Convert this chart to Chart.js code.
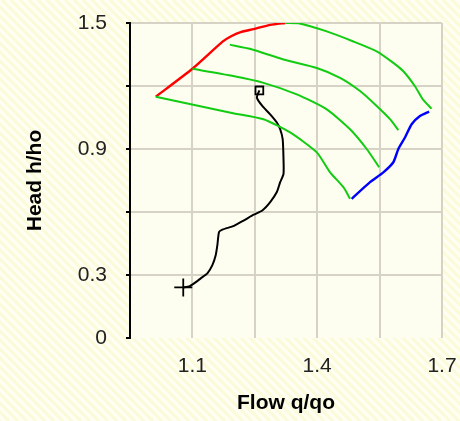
<!DOCTYPE html>
<html><head><meta charset="utf-8">
<script src="https://cdn.jsdelivr.net/npm/chart.js@4/dist/chart.umd.min.js"></script>
<style>html,body{margin:0;padding:0;background:#FEFEF2;}#wrap{width:460px;height:421px;}</style>
</head><body><div id="wrap"><canvas id="c" width="460" height="421"></canvas></div>
<script>
const X_TICKS = [0.95, 1.1, 1.25, 1.4, 1.55, 1.7];
const X_LABELED = [1.1, 1.4, 1.7];
const Y_TICKS = [0, 0.3, 0.6, 0.9, 1.2, 1.5];
const Y_LABELED = [0, 0.3, 0.9, 1.5];

const RED_Q = [1.012, 1.1, 1.1725, 1.192, 1.216, 1.247, 1.2875, 1.323];
const RED_H = [1.149, 1.282, 1.411, 1.436, 1.457, 1.471, 1.491, 1.50];

const GREEN1_Q = [1.323, 1.355, 1.423, 1.487, 1.543, 1.583, 1.607, 1.635, 1.654, 1.675];
const GREEN1_H = [1.50, 1.499, 1.460, 1.412, 1.365, 1.310, 1.270, 1.199, 1.136, 1.092];

const GREEN2_Q = [1.190, 1.240, 1.319, 1.399, 1.455, 1.503, 1.543, 1.575, 1.595];
const GREEN2_H = [1.397, 1.376, 1.326, 1.286, 1.239, 1.176, 1.105, 1.042, 0.990];

const GREEN3_Q = [1.1, 1.192, 1.271, 1.351, 1.423, 1.479, 1.519, 1.549];
const GREEN3_H = [1.282, 1.250, 1.215, 1.160, 1.089, 0.994, 0.900, 0.813];

const GREEN4_Q = [1.012, 1.192, 1.271, 1.335, 1.399, 1.431, 1.463, 1.479];
const GREEN4_H = [1.149, 1.073, 1.042, 0.979, 0.884, 0.789, 0.718, 0.663];

const BLUE_Q = [1.669, 1.647, 1.627, 1.611, 1.595, 1.583, 1.559, 1.527, 1.483];
const BLUE_H = [1.078, 1.057, 1.018, 0.955, 0.900, 0.837, 0.789, 0.742, 0.663];

const PATH_Q = [1.261, 1.255, 1.268, 1.287, 1.303, 1.311, 1.317, 1.319, 1.319, 1.311, 1.303, 1.287, 1.268, 1.247, 1.224, 1.200, 1.172, 1.164, 1.160, 1.156, 1.148, 1.136, 1.120, 1.104, 1.092, 1.078];
const PATH_H = [1.179, 1.144, 1.105, 1.065, 1.026, 0.994, 0.947, 0.852, 0.781, 0.742, 0.695, 0.647, 0.607, 0.587, 0.560, 0.534, 0.516, 0.505, 0.442, 0.394, 0.347, 0.308, 0.284, 0.260, 0.245, 0.241];

const START_Q = [1.261], START_H = [1.179];
const END_Q = [1.078], END_H = [0.241];

function pts(q, h) { return q.map((v, i) => ({x: v, y: h[i]})); }
function line(q, h, color, w) {
  return {data: pts(q, h), showLine: true, borderColor: color, borderWidth: w, pointRadius: 0, tension: 0.2, fill: false};
}

const bgPlugin = {
  id: 'bg',
  beforeDraw(chart) {
    const c = chart.ctx, W = chart.width, H = chart.height, a = chart.chartArea;
    c.save();
    c.fillStyle = '#FEFEF2';
    c.fillRect(0, 0, W, H);
    c.strokeStyle = 'rgba(248,248,200,0.6)';
    c.lineWidth = 3;
    for (let k = -H; k < W; k += 9) {
      c.beginPath(); c.moveTo(k, 0); c.lineTo(k + H, H); c.stroke();
    }
    c.fillStyle = '#FDFDF0';
    c.fillRect(a.left, a.top, a.right - a.left, a.bottom - a.top);
    c.restore();
  }
};

const near = (v, arr) => arr.some(t => Math.abs(t - v) < 1e-6);

new Chart(document.getElementById('c'), {
  type: 'scatter',
  data: {
    datasets: [
      line(GREEN1_Q, GREEN1_H, '#11CC11', 2),
      line(GREEN2_Q, GREEN2_H, '#11CC11', 2),
      line(GREEN3_Q, GREEN3_H, '#11CC11', 2),
      line(GREEN4_Q, GREEN4_H, '#11CC11', 2),
      line(RED_Q, RED_H, '#FF0000', 2.4),
      line(BLUE_Q, BLUE_H, '#0000FF', 2.4),
      line(PATH_Q, PATH_H, '#000000', 2),
      {data: pts(START_Q, START_H), pointStyle: 'rect', pointRadius: 5.5, borderColor: '#000', backgroundColor: 'rgba(0,0,0,0)', borderWidth: 1.8},
      {data: pts(END_Q, END_H), pointStyle: 'cross', pointRadius: 9, borderColor: '#000', borderWidth: 1.8}
    ]
  },
  options: {
    responsive: false,
    animation: false,
    layout: {padding: {left: 0, right: 18, top: 23, bottom: 0}},
    plugins: {legend: {display: false}, tooltip: {enabled: false}},
    scales: {
      x: {
        type: 'linear', min: 0.95, max: 1.7,
        afterBuildTicks: s => { s.ticks = X_TICKS.map(v => ({value: v})); },
        afterFit: s => { s.height = 421 - 338; s.paddingLeft = 0; s.paddingRight = 0; },
        ticks: {
          padding: 16, color: '#222', font: {family: 'Liberation Sans', size: 21},
          callback: v => near(v, X_LABELED) ? String(+v.toFixed(2)) : ''
        },
        grid: {
          drawTicks: false, lineWidth: 2,
          color: ctx => (ctx.tick && Math.abs(ctx.tick.value - 0.95) < 1e-6) ? 'rgba(0,0,0,0)' : '#D6D3C6'
        },
        border: {display: false},
        title: {display: true, text: 'Flow q/qo', color: '#000', font: {family: 'Liberation Sans', size: 21, weight: 'bold'}, padding: {top: 0, bottom: 5}}
      },
      y: {
        type: 'linear', min: 0, max: 1.5,
        afterBuildTicks: s => { s.ticks = Y_TICKS.map(v => ({value: v})); },
        afterFit: s => { s.width = 130; s.paddingTop = 0; s.paddingBottom = 0; },
        ticks: {
          padding: 19, color: '#222', font: {family: 'Liberation Sans', size: 21},
          callback: v => near(v, Y_LABELED) ? String(+v.toFixed(2)) : ''
        },
        grid: {
          drawTicks: true, tickLength: 4, lineWidth: 2,
          tickColor: '#000',
          color: ctx => (ctx.tick && Math.abs(ctx.tick.value) < 1e-6) ? 'rgba(0,0,0,0)' : '#D6D3C6'
        },
        border: {display: true, color: '#000', width: 2},
        title: {display: true, text: 'Head h/ho', color: '#000', font: {family: 'Liberation Sans', size: 21, weight: 'bold'}, padding: {top: 23, bottom: 0}}
      }
    }
  },
  plugins: [bgPlugin]
});
</script></body></html>
